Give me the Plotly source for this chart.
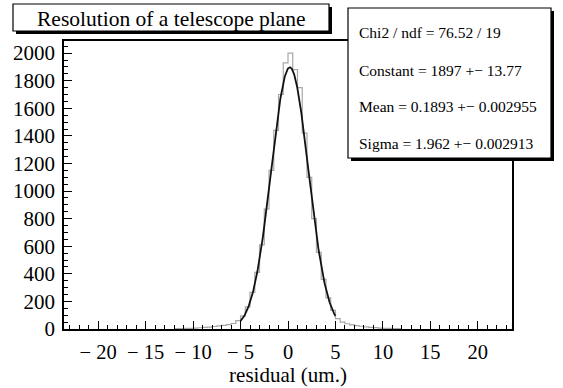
import numpy as np
import plotly.graph_objects as go

# Residual histogram: 0.5 um bins starting at -12 um
bin_start = -12.0
bin_width = 0.5
counts = [
    2, 3, 4, 5, 7, 9, 12, 14, 18, 22, 26, 32, 40, 60,            # -12 .. -5
    95, 160, 265, 410, 610, 870, 1150, 1440, 1700, 1930,          # -5 .. 0
    2000, 1880, 1750, 1420, 1100, 800, 555, 360, 225, 135,        # 0 .. 5
    75, 50, 38, 30, 25, 20, 16, 12, 10, 7, 5, 4, 3, 2,            # 5 .. 12
]

# Gaussian fit results
fit_constant = 1897
fit_mean = 0.1893
fit_sigma = 1.962
fit_range = [-5.0, 5.0]
stats_lines = [
    "Chi2 / ndf = 76.52 / 19",
    "Constant = 1897 +\u2212 13.77",
    "Mean = 0.1893 +\u2212 0.002955",
    "Sigma = 1.962 +\u2212 0.002913",
]

x_ticks = [-20, -15, -10, -5, 0, 5, 10, 15, 20]
x_tick_text = ["\u2212 20", "\u2212 15", "\u2212 10", "\u2212 5", "0", "5", "10", "15", "20"]
y_ticks = [0, 200, 400, 600, 800, 1000, 1200, 1400, 1600, 1800, 2000]

FONT = "Liberation Serif"
W, H = 563, 388
L, R, T, B = 64, 512, 41, 329   # plot frame in pixels


def px(x):
    return (x - L) / (R - L)


def py(y):
    return (B - y) / (B - T)


edges = bin_start + bin_width * np.arange(len(counts) + 1)
step_y = list(counts) + [counts[-1]]

xf = np.linspace(fit_range[0], fit_range[1], 300)
yf = fit_constant * np.exp(-0.5 * ((xf - fit_mean) / fit_sigma) ** 2)

fig = go.Figure()
fig.add_trace(go.Scatter(
    x=edges, y=step_y, mode="lines", line=dict(color="#a8a8a8", width=1.2, shape="hv"),
    hoverinfo="skip", showlegend=False,
))
fig.add_trace(go.Scatter(
    x=xf, y=yf, mode="lines", line=dict(color="#111111", width=1.8),
    hoverinfo="skip", showlegend=False,
))

axis_common = dict(
    showgrid=False, zeroline=False, showline=True, linecolor="black", linewidth=1.5,
    mirror=True, ticks="inside", tickcolor="black", tickwidth=1.3, automargin=False,
)

fig.update_xaxes(
    range=[-23.6, 23.6], tickvals=x_ticks, ticktext=x_tick_text, ticklen=8,
    minor=dict(dtick=1, tick0=0, ticklen=4, ticks="inside", tickcolor="black", tickwidth=1.2),
    ticklabelstandoff=4,
    tickfont=dict(family=FONT, size=20.5, color="black"),
    title=dict(text="residual (um.)", font=dict(family=FONT, size=21, color="black"), standoff=4),
    **axis_common,
)
fig.update_yaxes(
    range=[0, 2088], tickvals=y_ticks, ticklen=8,
    minor=dict(dtick=50, tick0=0, ticklen=4, ticks="inside", tickcolor="black", tickwidth=1.2),
    ticklabelstandoff=3,
    tickfont=dict(family=FONT, size=21, color="black"),
    **axis_common,
)

shapes = []
annotations = []

# Title pave with shadow
tx0, ty0, tx1, ty1 = 13, 4, 329, 31
shapes.append(dict(type="rect", xref="paper", yref="paper",
                   x0=px(tx0 + 3), x1=px(tx1 + 3), y0=py(ty0 + 3), y1=py(ty1 + 3),
                   fillcolor="black", line=dict(width=0), layer="above"))
shapes.append(dict(type="rect", xref="paper", yref="paper",
                   x0=px(tx0), x1=px(tx1), y0=py(ty0), y1=py(ty1),
                   fillcolor="white", line=dict(color="black", width=1.2), layer="above"))
annotations.append(dict(text="Resolution of a telescope plane", xref="paper", yref="paper",
                        x=px((tx0 + tx1) / 2), y=py((ty0 + ty1) / 2 + 1), xanchor="center",
                        yanchor="middle", showarrow=False,
                        font=dict(family=FONT, size=21.5, color="black")))

# Fit statistics box with shadow
sx0, sy0, sx1, sy1 = 348, 8, 551, 158
shapes.append(dict(type="rect", xref="paper", yref="paper",
                   x0=px(sx0 + 3), x1=px(sx1 + 3), y0=py(sy0 + 3), y1=py(sy1 + 3),
                   fillcolor="black", line=dict(width=0), layer="above"))
shapes.append(dict(type="rect", xref="paper", yref="paper",
                   x0=px(sx0), x1=px(sx1), y0=py(sy0), y1=py(sy1),
                   fillcolor="white", line=dict(color="black", width=1.2), layer="above"))
line_y = [32, 70, 107, 143]
for text, yy in zip(stats_lines, line_y):
    annotations.append(dict(text=text, xref="paper", yref="paper", x=px(357), y=py(yy),
                            xanchor="left", yanchor="middle", showarrow=False,
                            font=dict(family=FONT, size=15.5, color="black")))

fig.update_layout(
    width=W, height=H, margin=dict(l=L, r=W - R, t=T, b=H - B),
    paper_bgcolor="white", plot_bgcolor="white",
    shapes=shapes, annotations=annotations,
)

fig.write_html("out.html")
